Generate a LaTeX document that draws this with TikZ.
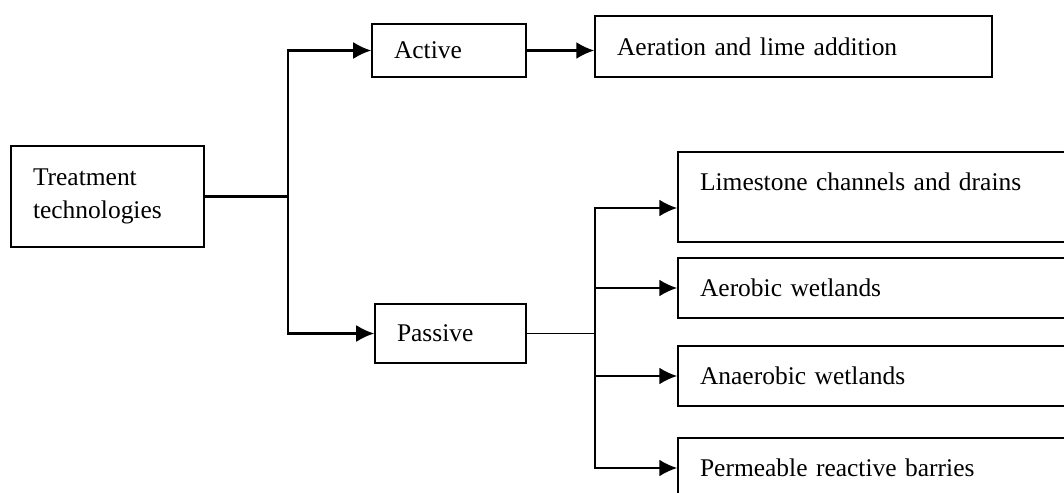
\documentclass[tikz,border=0pt]{standalone}
\usepackage{fontspec}
\setmainfont{Liberation Serif}
\usetikzlibrary{arrows.meta}

\begin{document}
\begin{tikzpicture}[x=0.02cm,y=-0.02cm]
\tikzset{box/.style = {shape=rectangle,draw,line width=0.9pt,inner xsep=0.44cm,inner ysep=0pt,align=left,font=\fontsize{14.5}{18.7}\selectfont}}
\tikzset{edge/.style = {-{Latex[length=0.36cm,width=0.34cm]},line width=1.3pt}}
\useasboundingbox (0,0) rectangle (1064,493);
% boxes
\node[box,text width=2.98cm,minimum height=2.02cm] (treat) at (107.5,196.5) {Treatment\\technologies};
\node[box,text width=2.2cm,minimum height=1.06cm] (active) at (449,50.5) {Active};
\node[box,text width=2.14cm,minimum height=1.18cm] (passive) at (450.5,333.5) {Passive};
\node[box,text width=7.06cm,minimum height=1.22cm] (aer) at (793.5,46.5) {Aeration and lime addition};
\node[box,text width=7.16cm,text height=0.76cm,text depth=1.04cm] (lime) at (879,197) {Limestone channels and drains};
\node[box,text width=7.16cm,minimum height=1.2cm] (aerob) at (879,288) {Aerobic wetlands};
\node[box,text width=7.16cm,minimum height=1.2cm] (anaer) at (879,376) {Anaerobic wetlands};
\node[box,text width=7.16cm,minimum height=1.2cm] (perm) at (879,468) {Permeable reactive barries};
% edges
\coordinate (split) at (288,196.5);
\coordinate (fork) at (595,333.5);
\draw[line width=1.3pt] (treat.east) -- (split);
\draw[edge] (split) |- (active.west);
\draw[edge] (split) |- (passive.west);
\draw[edge] (active.east) -- (active.east -| aer.west);
\draw[line width=0.7pt] (passive.east) -- (fork);
\draw[edge] (fork) |- ([yshift=-0.22cm]lime.west);
\foreach \n in {aerob,anaer,perm}
  \draw[edge] (fork) |- (\n.west);
\end{tikzpicture}
\end{document}
